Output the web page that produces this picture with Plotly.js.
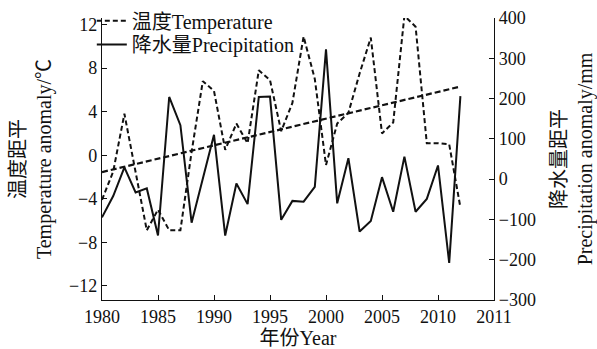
<!DOCTYPE html>
<html>
<head>
<meta charset="utf-8">
<script src="https://cdn.plot.ly/plotly-3.0.1.min.js"></script>
<style>
html,body{margin:0;padding:0;background:#fff;}
#chart{width:597px;height:349px;}
</style>
</head>
<body>
<div id="chart"></div>
<script>
// Data
const years = [1980,1981,1982,1983,1984,1985,1986,1987,1988,1989,1990,1991,1992,1993,1994,1995,1996,1997,1998,1999,2000,2001,2002,2003,2004,2005,2006,2007,2008,2009,2010,2011,2012];
const temperature = [-4.1,-1.5,3.8,-1.5,-6.9,-5.0,-6.9,-6.9,0.3,6.8,5.9,0.5,2.9,1.1,7.8,6.9,2.2,4.8,10.9,7.0,-0.9,2.9,3.9,7.5,10.8,2.0,3.0,12.8,11.8,1.1,1.1,1.0,-4.8];
const precipitation = [-95,-42,29,-33,-23,-140,204,134,-108,0,110,-140,-11,-62,204,205,-101,-54,-56,-19,322,-60,52,-130,-104,5,-81,56,-81,-49,34,-208,206];
const trendYears = [1980, 2012];
const trendValues = [-1.55, 6.3];
const xTickVals = [1980,1985,1990,1995,2000,2005,2010,2015];
const xTickText = ["1980","1985","1990","1995","2000","2005","2010","2011"];
const yTickVals = [-12,-8,-4,0,4,8,12];
const y2TickVals = [-300,-200,-100,0,100,200,300,400];

const FONT = "Liberation Serif, Noto Sans CJK SC, serif";
const INK = "#111";

const traces = [
  {
    x: years, y: temperature, type: 'scatter', mode: 'lines',
    name: '温度Temperature', xaxis: 'x', yaxis: 'y', legend: 'legend',
    line: {color: INK, width: 2, dash: '5px,3px'}
  },
  {
    x: years, y: precipitation, type: 'scatter', mode: 'lines',
    name: '降水量Precipitation', xaxis: 'x', yaxis: 'y2', legend: 'legend2',
    line: {color: INK, width: 2}
  },
  {
    x: trendYears, y: trendValues, type: 'scatter', mode: 'lines',
    name: 'trend', showlegend: false, xaxis: 'x', yaxis: 'y',
    line: {color: INK, width: 2.2, dash: '6px,3px'}
  }
];

const legendCommon = {
  xanchor: 'left', yanchor: 'middle',
  bgcolor: 'rgba(0,0,0,0)', borderwidth: 0,
  font: {family: FONT, size: 20, color: INK}
};

const layout = {
  width: 597, height: 349,
  margin: {l: 102, r: 103, t: 18, b: 49, pad: 0, autoexpand: false},
  paper_bgcolor: '#fff', plot_bgcolor: 'rgba(0,0,0,0)',
  font: {family: FONT, size: 18, color: INK},
  showlegend: true,
  legend: Object.assign({x: -0.026, y: 0.990}, legendCommon),
  legend2: Object.assign({x: -0.026, y: 0.906}, legendCommon),
  xaxis: {
    range: [1980, 2015], domain: [0, 1], anchor: 'y',
    tickmode: 'array', tickvals: xTickVals, ticktext: xTickText,
    ticks: 'inside', ticklen: 5, tickwidth: 1, tickcolor: INK,
    showline: true, linecolor: INK, linewidth: 1.2,
    showgrid: false, zeroline: false,
    tickfont: {family: FONT, size: 18, color: INK},
    title: {text: '年份Year', font: {family: FONT, size: 20, color: INK}, standoff: 6}
  },
  yaxis: {
    range: [-13.3, 12.6], domain: [0, 1], anchor: 'x', side: 'left',
    tickmode: 'array', tickvals: yTickVals,
    ticks: 'inside', ticklen: 5, tickwidth: 1, tickcolor: INK,
    showline: true, linecolor: INK, linewidth: 1.2,
    showgrid: false, zeroline: false,
    tickfont: {family: FONT, size: 18, color: INK},
    title: {text: '温度距平<br>Temperature anomaly/℃', font: {family: FONT, size: 20, color: INK}, standoff: 12}
  },
  yaxis2: {
    range: [-300, 400], overlaying: 'y', anchor: 'x', side: 'right',
    tickmode: 'array', tickvals: y2TickVals,
    ticks: 'inside', ticklen: 5, tickwidth: 1, tickcolor: INK,
    showline: true, linecolor: INK, linewidth: 1.2,
    showgrid: false, zeroline: false,
    tickfont: {family: FONT, size: 18, color: INK},
    title: {text: '降水量距平<br>Precipitation anomaly/mm', font: {family: FONT, size: 20, color: INK}, standoff: 17}
  }
};

Plotly.newPlot('chart', traces, layout, {staticPlot: true, displayModeBar: false});
</script>
</body>
</html>
